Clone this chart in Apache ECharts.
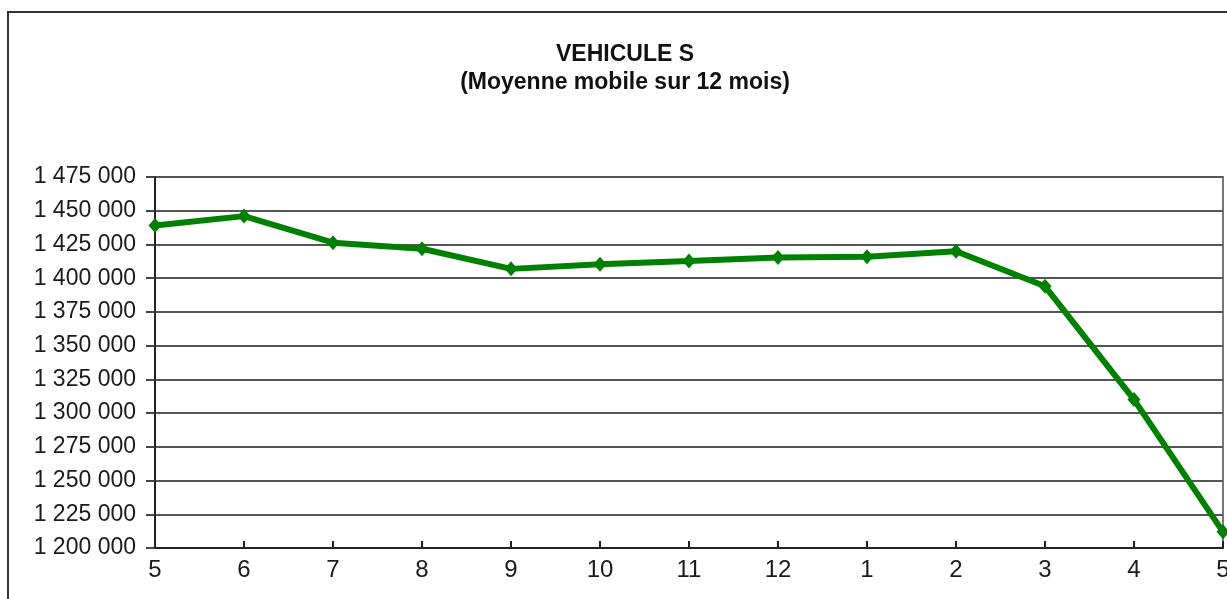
<!DOCTYPE html>
<html>
<head>
<meta charset="utf-8">
<script src="https://cdn.jsdelivr.net/npm/echarts@6/dist/echarts.min.js"></script>
<style>
html,body{margin:0;padding:0;background:#fff;overflow:hidden;}
#chart{width:1227px;height:599px;}
</style>
</head>
<body>
<div id="chart"></div>
<script>
const months = ['5','6','7','8','9','10','11','12','1','2','3','4','5'];
const vehicules = [1439000, 1446000, 1426300, 1421800, 1406900, 1410300, 1412700, 1415400, 1415900, 1420000, 1394000, 1310000, 1212000];
const titleLines = ['VEHICULE S', '(Moyenne mobile sur 12 mois)'];

const chart = echarts.init(document.getElementById('chart'));
const fmt = v => String(v).replace(/\B(?=(\d{3})+(?!\d))/g, ' ');
chart.setOption({
  animation: false,
  backgroundColor: '#fff',
  title: {
    text: titleLines.join('\n'),
    left: 620,
    textAlign: 'center',
    top: 36,
    textStyle: {fontFamily: 'Liberation Sans, Arial', fontWeight: 'bold', fontSize: 23, lineHeight: 28, color: '#111'}
  },
  graphic: [{
    type: 'rect',
    shape: {x: 8, y: 12, width: 1240, height: 620},
    style: {fill: 'none', stroke: '#333', lineWidth: 2},
    silent: true
  }],
  grid: {left: 155, right: 4, top: 177, bottom: 51, containLabel: false, outerBoundsMode: 'none', show: true, borderColor: '#777', borderWidth: 2, backgroundColor: 'transparent'},
  xAxis: {
    type: 'category',
    data: months,
    boundaryGap: false,
    axisLine: {lineStyle: {color: '#222', width: 2}},
    axisTick: {inside: true, length: 7, lineStyle: {color: '#222', width: 2}},
    axisLabel: {margin: 10, fontFamily: 'Liberation Sans, Arial', fontSize: 24, color: '#1a1a1a'},
    splitLine: {show: false}
  },
  yAxis: {
    type: 'value',
    min: 1200000,
    max: 1475000,
    interval: 25000,
    axisLine: {show: true, lineStyle: {color: '#222', width: 2}},
    axisTick: {show: true, length: 9, lineStyle: {color: '#444', width: 2}},
    axisLabel: {margin: 19, fontFamily: 'Liberation Sans, Arial', fontSize: 23, color: '#1a1a1a', formatter: fmt},
    splitLine: {show: true, lineStyle: {color: '#555', width: 2}}
  },
  series: [{
    type: 'line',
    data: vehicules,
    lineStyle: {color: '#008000', width: 6},
    itemStyle: {color: '#008000'},
    symbol: 'diamond',
    symbolSize: [13, 15],
    showSymbol: true
  }]
});
</script>
</body>
</html>
